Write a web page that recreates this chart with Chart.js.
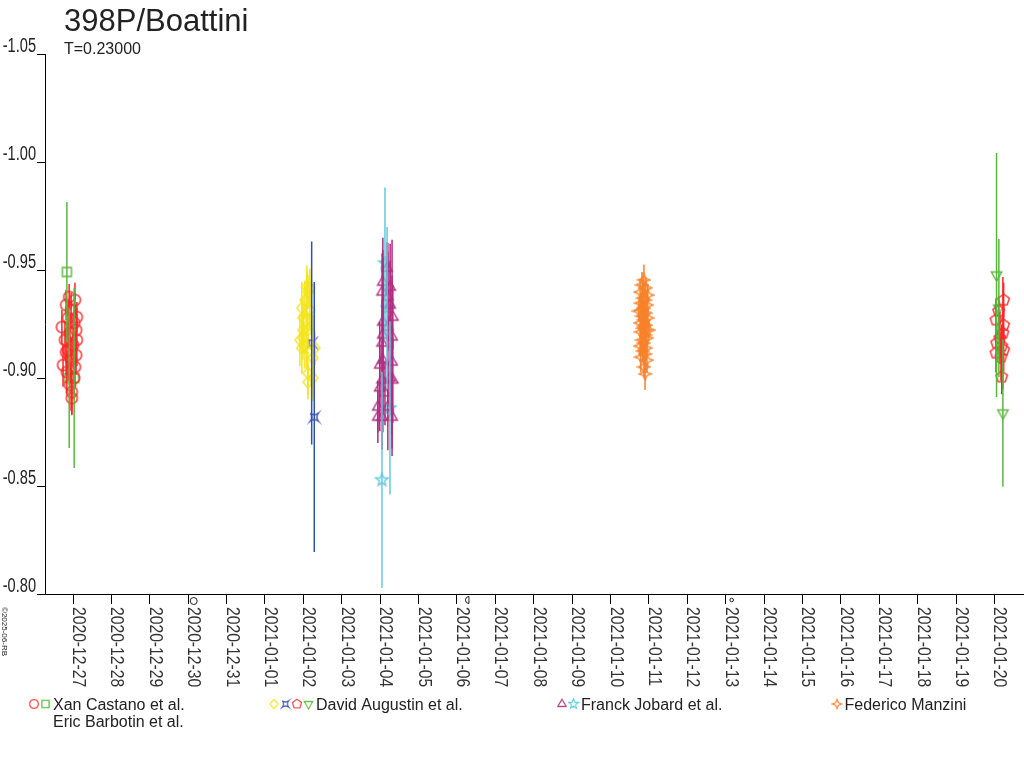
<!DOCTYPE html>
<html>
<head>
<meta charset="utf-8">
<script src="https://cdn.jsdelivr.net/npm/chart.js@4.4.1/dist/chart.umd.min.js"></script>
<style>
  html, body { margin: 0; padding: 0; background: #fff; }
</style>
</head>
<body>
<canvas id="lightCurve" width="1024" height="768"></canvas>
<script>

// x values are days counted from 2020-12-27 00:00 UT
const dayLabels = ['2020-12-27', '2020-12-28', '2020-12-29', '2020-12-30', '2020-12-31',
    '2021-01-01', '2021-01-02', '2021-01-03', '2021-01-04', '2021-01-05', '2021-01-06',
    '2021-01-07', '2021-01-08', '2021-01-09', '2021-01-10', '2021-01-11', '2021-01-12',
    '2021-01-13', '2021-01-14', '2021-01-15', '2021-01-16', '2021-01-17', '2021-01-18',
    '2021-01-19', '2021-01-20']
const dayTicks = dayLabels.map((label, i) => i)
const magTicks = [-1.05, -1.00, -0.95, -0.90, -0.85, -0.80]

const moonDays = [3, 10, 17]
const moonPhases = ['full', 'last', 'new']

// Xan Castano et al.
const castanoX = [-0.29, -0.26, -0.21, -0.18, -0.16, -0.13, -0.13, -0.10, -0.08, -0.08, -0.05, -0.03,
    -0.03, 0, 0.03, 0.05, 0.08, 0.08, 0.10, 0.10, 0.05, -0.05, -0.18, 0.03]
const castanoY = [-0.9236, -0.9060, -0.9176, -0.9338, -0.9028, -0.9278, -0.9130, -0.9375, -0.9208, -0.8968,
    -0.9315, -0.8935, -0.8907, -0.9153, -0.9255, -0.9361, -0.9222, -0.9106, -0.9282, -0.9176, -0.9051,
    -0.9083, -0.9120, -0.9000]
const castanoErr = [0.008, 0.010, 0.009, 0.007, 0.010, 0.008, 0.012, 0.006, 0.009, 0.012, 0.008, 0.010,
    0.008, 0.011, 0.009, 0.008, 0.010, 0.009, 0.007, 0.012, 0.009, 0.010, 0.011, 0.010]

// Eric Barbotin et al.
const barbotinX = [-0.16, -0.10, 0.03]
const barbotinY = [-0.9491, -0.9000, -0.9000]
const barbotinErr = [0.0324, 0.0324, 0.0417]

// David Augustin et al. (four instruments)
const augustinAX = [6.09, 6.12, 6.04, 5.96, 6.17, 5.99, 6.09, 5.99, 6.12, 6.04, 5.96, 6.30, 6.25, 6.12,
    6.25, 6.12, 6.17, 5.91, 5.99]
const augustinAY = [-0.9421, -0.9398, -0.9361, -0.9324, -0.9315, -0.9278, -0.9269, -0.9222, -0.9222,
    -0.9144, -0.9139, -0.9139, -0.9093, -0.9023, -0.9000, -0.8981, -0.9417, -0.9176, -0.9185]
const augustinAErr = [0.010, 0.008, 0.009, 0.012, 0.010, 0.010, 0.023, 0.011, 0.008, 0.010, 0.012, 0.008,
    0.020, 0.010, 0.009, 0.008, 0.009, 0.012, 0.010]

const augustinBX = [6.216, 6.284]
const augustinBY = [-0.9162, -0.8819]
const augustinBErr = [0.047, 0.0625]

const augustinCX = [24.24, 24.11, 24.04, 24.24, 24.22, 24.06, 24.19, 24.04, 24.17, 24.19, 24.14, 24.24]
const augustinCY = [-0.9361, -0.9310, -0.9269, -0.9245, -0.9208, -0.9162, -0.9148, -0.9116, -0.9097,
    -0.9005, -0.9185, -0.9130]
const augustinCErr = [0.008, 0.007, 0.010, 0.009, 0.026, 0.008, 0.010, 0.009, 0.011, 0.008, 0.012, 0.010]

const augustinDX = [24.055, 24.115, 24.22]
const augustinDY = [-0.9477, -0.9324, -0.8838]
const augustinDErr = [0.0565, 0.032, 0.034]

// Franck Jobard et al.
const jobardAX = [8.18, 8.07, 8.26, 8.05, 8.20, 8.26, 8.33, 8.07, 8.20, 8.07, 8.31, 8.05, 8.07, 8.31,
    7.99, 8.26, 8.33, 8.05, 7.99, 8.125, 7.94, 8.20, 8.05, 8.31, 7.94]
const jobardAY = [-0.9509, -0.9444, -0.9421, -0.9398, -0.9375, -0.9338, -0.9282, -0.9259, -0.9236,
    -0.9199, -0.9190, -0.9162, -0.9083, -0.9074, -0.9060, -0.9000, -0.8991, -0.8991, -0.8954, -0.8931,
    -0.8866, -0.8866, -0.8819, -0.8819, -0.8819]
const jobardAErr = [0.012, 0.015, 0.020, 0.018, 0.025, 0.020, 0.015, 0.030, 0.035, 0.045, 0.045, 0.020,
    0.025, 0.040, 0.020, 0.015, 0.020, 0.018, 0.020, 0.015, 0.012, 0.020, 0.015, 0.018, 0.012]

const jobardBX = [8.125, 8.18, 8.255, 8.047]
const jobardBY = [-0.9532, -0.9324, -0.8861, -0.8528]
const jobardBErr = [0.035, 0.0375, 0.040, 0.050]

// Federico Manzini
const manziniX = [14.87, 14.82, 14.92, 14.77, 14.97, 14.84, 14.90, 14.79, 14.95, 14.87, 14.74, 14.92,
    14.82, 14.97, 14.87, 14.77, 14.92, 14.84, 15.00, 14.79, 14.90, 14.95, 14.82, 14.87, 14.77, 14.92,
    14.84, 14.90, 14.79, 14.95, 14.87, 14.90, 14.82, 14.92, 14.87]
const manziniY = [-0.9454, -0.9431, -0.9417, -0.9398, -0.9384, -0.9370, -0.9361, -0.9347, -0.9338,
    -0.9324, -0.9310, -0.9301, -0.9287, -0.9278, -0.9269, -0.9255, -0.9245, -0.9231, -0.9222, -0.9213,
    -0.9199, -0.9185, -0.9176, -0.9162, -0.9148, -0.9139, -0.9125, -0.9111, -0.9097, -0.9083, -0.9051,
    -0.9019, -0.9315, -0.9222, -0.9241]
const manziniErr = [0.007, 0.006, 0.005, 0.006, 0.005, 0.007, 0.006, 0.005, 0.006, 0.007, 0.005, 0.006,
    0.007, 0.005, 0.006, 0.005, 0.007, 0.006, 0.005, 0.006, 0.007, 0.005, 0.006, 0.007, 0.005, 0.006,
    0.005, 0.006, 0.007, 0.006, 0.005, 0.0075, 0.006, 0.005, 0.006]



const RED = '#ff2424'
const GREEN = '#58b83e'
const YELLOW = '#f4e41c'
const BLUE = '#3450ad'
const PURPLE = '#b02c80'
const CYAN = '#62cbdc'
const ORANGE = '#f7822a'
const FONT = '"Liberation Sans", Arial, sans-serif'


const makeMarker = (shape, color) => {
    const size = 15
    const c = document.createElement('canvas')
    c.width = c.height = size
    const g = c.getContext('2d')
    g.strokeStyle = color
    g.lineWidth = 1.4
    g.translate(size / 2, size / 2)
    g.beginPath()

    const polygon = (n, r, start) => {
        for (let k = 0; k < n; k++) {
            const a = start + k * 2 * Math.PI / n
            k ? g.lineTo(r * Math.cos(a), r * Math.sin(a)) : g.moveTo(r * Math.cos(a), r * Math.sin(a))
        }
        g.closePath()
    }
    const star = (n, outer, inner, start) => {
        for (let k = 0; k < 2 * n; k++) {
            const r = k % 2 ? inner : outer
            const a = start + k * Math.PI / n
            k ? g.lineTo(r * Math.cos(a), r * Math.sin(a)) : g.moveTo(r * Math.cos(a), r * Math.sin(a))
        }
        g.closePath()
    }

    switch (shape) {
        case 'circle': g.arc(0, 0, 5.5, 0, 2 * Math.PI); break
        case 'square': g.rect(-4.5, -4.5, 9, 9); break
        case 'diamond': g.moveTo(0, -6); g.lineTo(5, 0); g.lineTo(0, 6); g.lineTo(-5, 0); g.closePath(); break
        case 'quad':
            g.moveTo(-4, -4)
            g.quadraticCurveTo(0, -1, 4, -4)
            g.quadraticCurveTo(1, 0, 4, 4)
            g.quadraticCurveTo(0, 1, -4, 4)
            g.quadraticCurveTo(-1, 0, -4, -4)
            break
        case 'pentagon': polygon(5, 6, -Math.PI / 2); break
        case 'triangle': polygon(3, 6, -Math.PI / 2); break
        case 'triDown': polygon(3, 6, Math.PI / 2); break
        case 'star5': star(5, 6.5, 2.7, -Math.PI / 2); break
        case 'star4': star(4, 6, 2.4, -Math.PI / 2); break
    }
    g.stroke()
    return c
}


const series = [
    { x: castanoX, y: castanoY, err: castanoErr, color: RED, shape: 'circle' },
    { x: barbotinX, y: barbotinY, err: barbotinErr, color: GREEN, shape: 'square' },
    { x: augustinAX, y: augustinAY, err: augustinAErr, color: YELLOW, shape: 'diamond' },
    { x: augustinBX, y: augustinBY, err: augustinBErr, color: BLUE, shape: 'quad' },
    { x: augustinCX, y: augustinCY, err: augustinCErr, color: RED, shape: 'pentagon' },
    { x: augustinDX, y: augustinDY, err: augustinDErr, color: GREEN, shape: 'triDown' },
    { x: jobardAX, y: jobardAY, err: jobardAErr, color: PURPLE, shape: 'triangle' },
    { x: jobardBX, y: jobardBY, err: jobardBErr, color: CYAN, shape: 'star5' },
    { x: manziniX, y: manziniY, err: manziniErr, color: ORANGE, shape: 'star4' }
]

const markers = series.map(s => makeMarker(s.shape, s.color))

const legendGroups = [
    { left: 28, series: [0, 1], lines: ['Xan Castano et al.', 'Eric Barbotin et al.'] },
    { left: 268, series: [2, 3, 4, 5], lines: ['David Augustin et al.'] },
    { left: 556, series: [6, 7], lines: ['Franck Jobard et al.'] },
    { left: 831, series: [8], lines: ['Federico Manzini'] }
]



const whiteBackground = {
    id: 'whiteBackground',
    beforeDraw: chart => {
        const { ctx, width, height } = chart
        ctx.save()
        ctx.fillStyle = '#fff'
        ctx.fillRect(0, 0, width, height)
        ctx.restore()
    }
}


const errorBars = {
    id: 'errorBars',
    afterDatasetsDraw: chart => {
        const { ctx } = chart
        const yScale = chart.scales.y
        ctx.save()
        ctx.lineWidth = 1.5
        chart.data.datasets.forEach((ds, i) => {
            ctx.strokeStyle = ds.borderColor
            chart.getDatasetMeta(i).data.forEach((pt, j) => {
                const v = ds.data[j].y
                const e = ds.errors[j]
                ctx.beginPath()
                ctx.moveTo(pt.x, yScale.getPixelForValue(v - e))
                ctx.lineTo(pt.x, yScale.getPixelForValue(v + e))
                ctx.stroke()
            })
        })
        ctx.restore()
    }
}


const texts = {
    id: 'texts',
    afterDraw: chart => {
        const { ctx } = chart
        const xs = chart.scales.x
        const ys = chart.scales.y
        ctx.save()
        ctx.fillStyle = '#222'
        ctx.textBaseline = 'alphabetic'

        // title
        ctx.font = `31px ${FONT}`
        ctx.fillText('398P/Boattini', 64, 31)
        ctx.font = `16px ${FONT}`
        ctx.fillText('T=0.23000', 64, 54)

        // y tick labels, sitting just above their ticks
        ctx.textAlign = 'right'
        ctx.font = `20px ${FONT}`
        magTicks.forEach(v => {
            ctx.save()
            ctx.translate(36, ys.getPixelForValue(v) - 2)
            ctx.scale(0.73, 1)
            ctx.fillText(v.toFixed(2), 0, 0)
            ctx.restore()
        })

        // x tick labels, rotated to read downward
        ctx.textAlign = 'left'
        ctx.font = `18px ${FONT}`
        ctx.fillStyle = '#333'
        dayTicks.forEach((d, i) => {
            ctx.save()
            ctx.translate(xs.getPixelForValue(d), 607)
            ctx.rotate(Math.PI / 2)
            ctx.scale(0.87, 1)
            ctx.fillText(dayLabels[i], 0, 0)
            ctx.restore()
        })

        // moon phase glyphs
        ctx.strokeStyle = '#222'
        ctx.lineWidth = 1
        moonDays.forEach((d, i) => {
            const px = xs.getPixelForValue(d)
            ctx.beginPath()
            if (moonPhases[i] === 'full') {
                ctx.arc(px + 5.5, 601, 3.5, 0, 2 * Math.PI)
            } else if (moonPhases[i] === 'last') {
                ctx.arc(px + 12, 600, 3.5, Math.PI / 2, 3 * Math.PI / 2)
                ctx.closePath()
            } else {
                ctx.arc(px + 6, 600, 1.8, 0, 2 * Math.PI)
            }
            ctx.stroke()
        })

        // copyright note
        ctx.save()
        ctx.fillStyle = '#222'
        ctx.font = `8px ${FONT}`
        ctx.translate(2, 607)
        ctx.rotate(Math.PI / 2)
        ctx.fillText('©2025-06-RB', 0, 0)
        ctx.restore()

        // legend
        ctx.font = `16px ${FONT}`
        ctx.fillStyle = '#222'
        legendGroups.forEach(group => {
            let x = group.left
            group.series.forEach(s => {
                ctx.drawImage(markers[s], x, 698, 12, 12)
                x += 11.5
            })
            group.lines.forEach((line, k) => ctx.fillText(line, x + 2, 710 + k * 17))
        })

        ctx.restore()
    }
}



const axisStyle = tickLength => ({
    ticks: { display: false },
    grid: { drawOnChartArea: false, drawTicks: true, tickLength, color: '#000', lineWidth: 1 },
    border: { color: '#000', width: 1 }
})

const data = {
    datasets: series.map((s, i) => ({
        data: s.x.map((x, j) => ({ x, y: s.y[j] })),
        errors: s.err,
        borderColor: s.color,
        pointStyle: markers[i],
        pointRadius: 6
    }))
}

const options = {
    responsive: false,
    animation: false,
    devicePixelRatio: 1,
    events: [],
    layout: { autoPadding: false, padding: { left: 37, top: 54, right: 0, bottom: 164 } },
    plugins: {
        legend: { display: false },
        tooltip: { enabled: false }
    },
    scales: {
        x: {
            type: 'linear',
            min: -0.73,
            max: 24.77,
            afterBuildTicks: scale => { scale.ticks = dayTicks.map(value => ({ value })) },
            ...axisStyle(10)
        },
        y: {
            type: 'linear',
            reverse: true,
            min: -1.05,
            max: -0.80,
            afterBuildTicks: scale => { scale.ticks = magTicks.map(value => ({ value })) },
            ...axisStyle(8)
        }
    }
}

new Chart('lightCurve', { type: 'scatter', data, options, plugins: [whiteBackground, errorBars, texts] })

</script>
</body>
</html>
